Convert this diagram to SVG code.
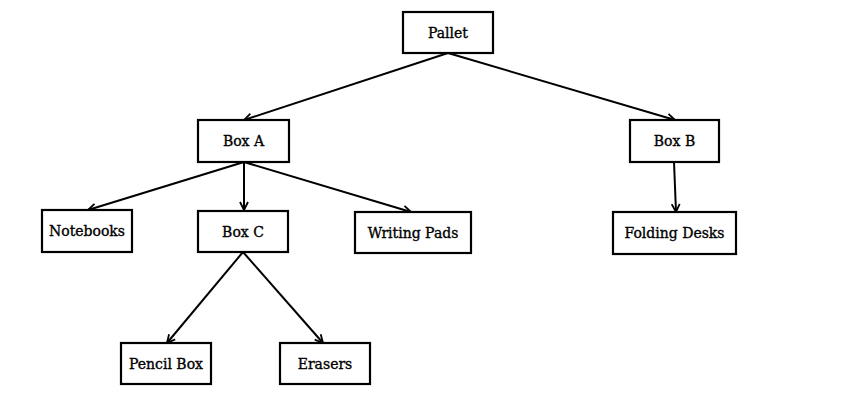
<svg xmlns="http://www.w3.org/2000/svg" width="847" height="412" viewBox="0 0 847 412">
<defs>
<style>
.box{fill:#fff;stroke:#000;stroke-width:2.2}
.lbl{font-family:"DejaVu Serif","Liberation Serif",serif;font-size:14px;fill:#000;stroke:#000;stroke-width:0.35;text-anchor:middle}
.edge{stroke:#000;stroke-width:2;fill:none;marker-end:url(#arr)}
</style>
<marker id="arr" viewBox="0 0 10 10" refX="9" refY="5" markerWidth="10" markerHeight="10" markerUnits="userSpaceOnUse" orient="auto">
<path d="M1,1 L9,5 L1,9" fill="none" stroke="#000" stroke-width="1.8"/>
</marker>
</defs>
<rect width="847" height="412" fill="#fff"/>
<g id="connectors">
<line class="edge" x1="448" y1="53" x2="244" y2="120"/>
<line class="edge" x1="448" y1="53" x2="675" y2="120"/>
<line class="edge" x1="244" y1="162" x2="88" y2="210"/>
<line class="edge" x1="244" y1="162" x2="244" y2="210"/>
<line class="edge" x1="244" y1="162" x2="411" y2="212"/>
<line class="edge" x1="674" y1="162" x2="676" y2="212"/>
<line class="edge" x1="243" y1="252" x2="167" y2="343"/>
<line class="edge" x1="243" y1="252" x2="323" y2="343"/>
</g>
<g id="pallet"><rect class="box" x="403" y="12" width="90" height="41"/><text class="lbl" x="448" y="37.5">Pallet</text></g>
<g id="boxA"><rect class="box" x="198" y="120" width="91" height="42"/><text class="lbl" x="243.5" y="146">Box A</text></g>
<g id="boxB"><rect class="box" x="630" y="120" width="89" height="42"/><text class="lbl" x="674.5" y="146">Box B</text></g>
<g id="notebooks"><rect class="box" x="42" y="210" width="90" height="42"/><text class="lbl" x="87" y="236">Notebooks</text></g>
<g id="boxC"><rect class="box" x="198" y="211" width="90" height="41"/><text class="lbl" x="243" y="236.5">Box C</text></g>
<g id="writingPads"><rect class="box" x="355" y="212" width="116" height="41"/><text class="lbl" x="413" y="238">Writing Pads</text></g>
<g id="foldingDesks"><rect class="box" x="613" y="212" width="123" height="42"/><text class="lbl" x="674.5" y="238">Folding Desks</text></g>
<g id="pencilBox"><rect class="box" x="121" y="343" width="90" height="41"/><text class="lbl" x="166" y="368.5">Pencil Box</text></g>
<g id="erasers"><rect class="box" x="280" y="343" width="90" height="41"/><text class="lbl" x="325" y="368.5">Erasers</text></g>
</svg>
